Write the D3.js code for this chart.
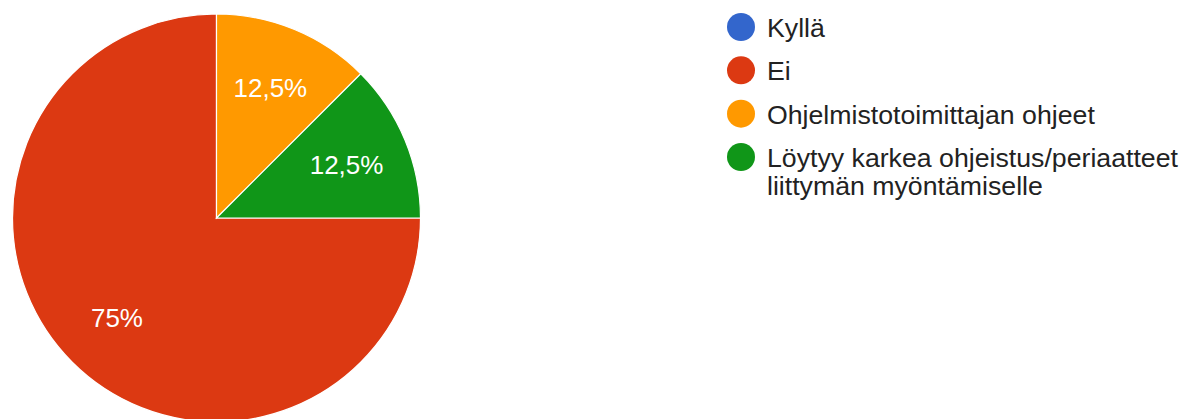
<!DOCTYPE html>
<html>
<head>
<meta charset="utf-8">
<script src="https://cdn.jsdelivr.net/npm/d3@7"></script>
<style>
  html, body { margin: 0; padding: 0; background: #fff; }
  svg { display: block; font-family: "Liberation Sans", Arial, sans-serif; }
</style>
</head>
<body>
<svg id="chart" width="1193" height="419"></svg>
<script>
// Survey answers and their shares (%)
const categories = ["Kyllä", "Ei", "Ohjelmistotoimittajan ohjeet", "Löytyy karkea ohjeistus/periaatteet liittymän myöntämiselle"];
const values = [0, 75, 12.5, 12.5];
const valueLabels = ["0%", "75%", "12,5%", "12,5%"];
const legendLines = [["Kyllä"], ["Ei"], ["Ohjelmistotoimittajan ohjeet"], ["Löytyy karkea ohjeistus/periaatteet", "liittymän myöntämiselle"]];
const colors = ["#3366cc", "#dc3912", "#ff9900", "#109618"];

const svg = d3.select("#chart");
const cx = 216.5, cy = 218, radius = 204;

const color = d3.scaleOrdinal().domain(categories).range(colors);

const pie = d3.pie()
  .sort(null)
  .value(d => d.value)
  .startAngle(Math.PI / 2)
  .endAngle(Math.PI / 2 + 2 * Math.PI);

const data = categories.map((c, i) => ({ name: c, value: values[i], label: valueLabels[i] }));
const arcs = pie(data);

const arc = d3.arc().innerRadius(0).outerRadius(radius);
const labelArc = d3.arc().innerRadius(radius * 0.69).outerRadius(radius * 0.69);

const g = svg.append("g").attr("transform", `translate(${cx},${cy})`);

g.selectAll("path")
  .data(arcs.filter(d => d.data.value > 0))
  .join("path")
  .attr("d", arc)
  .attr("fill", d => color(d.data.name))
  .attr("stroke", "#fff")
  .attr("stroke-width", 1.2);

g.selectAll("text")
  .data(arcs.filter(d => d.data.value > 0))
  .join("text")
  .attr("transform", d => `translate(${labelArc.centroid(d)})`)
  .attr("text-anchor", "middle")
  .attr("dy", "0.36em")
  .attr("fill", "#fff")
  .attr("font-size", 26)
  .text(d => d.data.label);

// Legend
const legend = svg.append("g").attr("transform", "translate(741,27)");
const rowY = d3.scalePoint().domain(categories).range([0, 130]);

const items = legend.selectAll("g")
  .data(categories)
  .join("g")
  .attr("transform", d => `translate(0,${rowY(d)})`);

items.append("circle")
  .attr("r", 14)
  .attr("fill", d => color(d));

items.append("text")
  .attr("x", 26)
  .attr("y", 10)
  .attr("fill", "#222")
  .attr("font-size", 26.7)
  .selectAll("tspan")
  .data((d, i) => legendLines[i])
  .join("tspan")
  .attr("x", 26)
  .attr("dy", (d, i) => i === 0 ? 0 : 28)
  .text(d => d);
</script>
</body>
</html>
